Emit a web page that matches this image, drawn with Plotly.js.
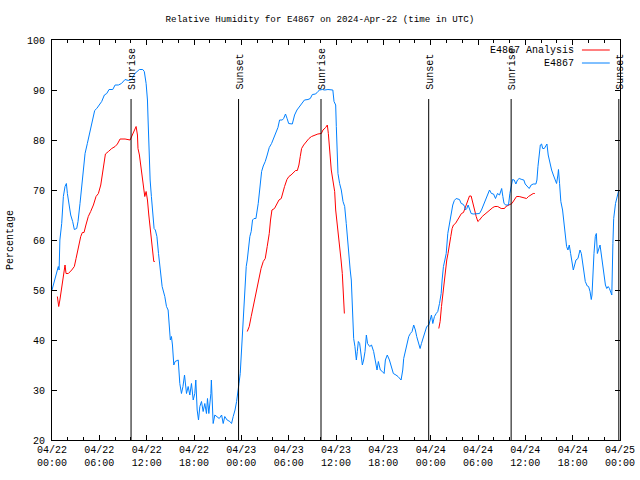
<!DOCTYPE html>
<html>
<head>
<meta charset="utf-8">
<script src="https://cdn.plot.ly/plotly-3.0.1.min.js"></script>
<style>html,body{margin:0;padding:0;background:#fff;}#chart{width:640px;height:480px;}</style>
</head>
<body>
<div id="chart"></div>
<script>
// Hours since 2024-04-22 00:00 UTC
const blueHours = [0,0.25,0.5,0.8,0.9,1.0,1.23,1.44,1.65,1.82,1.95,2.16,2.37,2.62,2.83,3.13,3.3,3.55,3.76,3.98,4.19,4.48,4.74,4.95,5.16,5.41,5.67,6.0,6.3,6.64,6.94,7.23,7.7,8.0,8.42,8.8,9.26,9.7,10.1,10.5,10.83,11.08,11.5,11.7,11.93,12.1,12.18,12.3,12.44,12.6,12.77,12.94,13.1,13.3,13.5,13.7,13.96,14.3,14.51,14.72,14.85,15.0,15.14,15.27,15.44,15.6,16.0,16.2,16.41,16.6,16.8,17.05,17.26,17.47,17.68,17.9,18.1,18.23,18.4,18.57,18.74,18.95,19.16,19.37,19.58,19.71,19.88,20.0,20.14,20.2,20.3,20.43,20.64,20.94,21.2,21.5,21.7,21.9,22.2,22.55,22.76,22.97,23.2,23.4,23.56,23.7,23.86,24.0,24.11,24.28,24.45,24.62,24.75,24.92,25.08,25.25,25.42,25.6,25.85,26.14,26.35,26.57,26.78,27.03,27.28,27.54,27.83,28.13,28.38,28.64,28.85,29.19,29.36,29.6,29.8,30.0,30.46,30.75,31.05,31.39,31.73,32.0,32.45,32.74,33.0,33.42,33.7,33.93,34.26,34.56,34.98,35.4,35.6,35.75,35.96,36.04,36.12,36.25,36.46,36.67,36.89,37.1,37.3,37.45,37.65,37.8,37.94,38.07,38.24,38.4,38.58,38.7,38.83,39.0,39.17,39.34,39.5,39.68,39.85,40.0,40.27,40.5,40.77,41.0,41.2,41.37,41.62,41.88,42.1,42.26,42.5,42.77,42.98,43.27,43.6,43.86,44.25,44.46,44.58,44.8,45.0,45.22,45.43,45.64,45.85,46.06,46.23,46.45,46.66,46.83,47.0,47.25,47.5,47.77,47.93,48.1,48.27,48.48,48.7,48.9,49.12,49.33,49.45,49.62,49.8,49.97,50.17,50.4,50.6,50.8,51.0,51.23,51.65,51.87,52.08,52.3,52.4,52.58,52.75,52.9,53.13,53.4,53.85,54.19,54.44,54.7,54.95,55.2,55.46,55.7,55.97,56.22,56.47,56.73,57.0,57.15,57.3,57.53,57.87,58.04,58.2,58.38,58.59,58.8,59.0,59.22,59.56,59.81,59.98,60.24,60.49,60.74,61.0,61.34,61.47,61.6,61.77,61.9,62.06,62.2,62.4,62.6,62.74,62.9,63.1,63.33,63.55,63.75,63.96,64.13,64.2,64.34,64.5,64.72,64.9,65.06,65.23,65.4,65.57,65.74,65.9,66.08,66.25,66.42,66.67,66.93,67.1,67.26,67.43,67.6,67.85,68.02,68.2,68.36,68.45,68.53,68.7,68.87,69.0,69.13,69.3,69.47,69.64,69.8,69.98,70.15,70.32,70.5,70.66,70.84,70.96,71.1,71.2,71.43,71.64,71.85,72.0];
const blueValues = [50,51.5,53.3,54.7,54,60,63.3,68.7,70.7,71.3,69.3,67.3,65,63.7,62.1,62.3,63.7,67.3,70.7,74.3,77.3,79.3,81,82.3,83.7,85.9,86.3,87,87.7,89,89.3,90.1,90.1,91,91,91.3,92.1,91.9,92.1,93.3,93.7,94.1,94.1,93.7,91.3,88,84,78,72,68.7,65.3,62.3,62,60.7,57.3,54.3,50.7,48.7,46.7,46,42.7,40,40.7,39,35,35.7,36,31.3,29.3,30.7,33,29.3,30.7,29,31.3,28,29.3,32,26,24,26.7,27.7,25.7,27.3,25.3,28.3,25.3,26.7,29.3,32,26.7,23.3,25,24.7,24.3,25,23.3,24.7,24,23.7,23.3,24.7,26,27.7,29.3,31.3,33.3,37.3,41.3,46.7,50.7,54.7,56,58.7,60.7,61.7,64,64.3,64.3,67.3,71.3,73.7,74.8,75.7,77,78.5,79.3,80.5,81.3,82.5,84,84,84.3,85.2,84.3,83.3,83.2,85,86,86.7,87.2,88,88.1,88.3,89.1,89.2,89.7,90,90.1,90,90.1,90.1,90,87.7,87,82.7,78,73.3,71.3,70,67.7,66.7,63.3,60,56.7,54,52,44.7,40.3,38.7,36,37.7,39.7,39.3,37,35,36,37.7,41,39.3,38.7,39,37.7,35.7,34,35.7,34,33.7,33.3,36,37,36,34.7,33.3,33,32.7,32,34,36.3,38,39,40.7,41.3,41.7,43,42,40.7,39.3,38.3,39.3,40.3,41.3,42.7,43,44,45,43.3,44.7,45.3,45.7,47.3,49.3,52,54.7,56,57.3,61.3,63.7,65.7,67,67.9,68.3,68.1,67.3,67.2,66.7,66,66.3,67,66.3,65.3,65.2,65.2,65.3,66,67,67.9,69,70,69.3,69.2,68.3,69.3,69,70.3,68.7,67.3,67,67,69.3,70.7,72.1,72,71.2,72,72.3,72.1,72,71.2,70.7,70.3,71,71.2,71.2,72,74.7,77,79,79.2,78.3,78.3,78.8,79.2,77,75.3,74,73,72,71.3,73,74.1,71.3,67.7,66,63.3,60,58.7,58,59,57.3,55.7,54,55,56,56.3,58,57.3,55.7,53.3,51.7,50.8,50.7,49.7,48.1,49,53,57.3,60.7,61.3,57.3,58.3,59,57,55.3,53.3,51,50.3,50.7,50.3,49.7,49,59.3,64.3,67.3,68.8,70,69.7];

const redHours = [0.68,0.85,1.0,1.23,1.44,1.65,1.78,2.07,2.5,2.83,3.05,3.34,3.64,3.85,4.06,4.3,4.6,4.9,5.25,5.58,5.88,6.18,6.4,6.6,6.77,7.15,7.57,8.0,8.29,8.63,9.26,9.9,10.15,10.4,10.66,10.83,10.9,11.08,11.25,11.42,11.59,11.76,11.93,12.1,12.27,12.44,12.6,12.77,12.9,13.03,
  18.0,
  24.75,25.0,25.25,25.5,25.76,26.0,26.27,26.5,26.78,27.03,27.28,27.54,27.7,27.88,28.2,28.47,28.77,29.06,29.27,29.48,29.78,30.03,30.3,30.6,30.88,31.1,31.3,31.47,31.64,31.9,32.2,32.57,32.9,33.3,33.7,34.14,34.35,34.69,34.9,35.03,35.2,35.4,35.6,35.83,35.96,36.13,36.3,36.47,36.64,36.8,36.89,37.0,37.06,
  43.0,
  49.03,49.2,49.37,49.54,49.7,49.87,50.04,50.2,50.38,50.55,50.72,50.89,51.14,51.4,51.65,51.9,52.16,52.4,52.67,52.92,53.13,53.35,53.56,53.77,53.98,54.19,54.53,54.87,55.2,55.54,55.88,56.14,56.5,56.94,57.36,57.53,57.95,58.3,58.59,58.88,59.22,59.56,59.9,60.15,60.4,60.7,61.0,61.2];
const redValues = [48.7,46.7,48,50.3,53,55,53.3,53.3,54,54.7,56.3,58.7,60.7,61.5,61.5,63,64.7,65.7,67,68.7,69.3,71,73.3,76,77.2,77.7,78.3,78.7,79.2,80.2,80.2,80,80.8,81.9,82.7,81,78.3,77,74.7,73,70.3,68.7,69.7,68,65,62.7,60,58.3,55.7,55.7,
  null,
  41.7,42.7,44.7,46.7,48.7,50.7,52.7,54.3,55.7,56.3,58.7,61.3,64,66,66.3,67,68,68.3,69.7,70.7,72.1,72.7,73,73.5,73.9,73.9,75,76.7,78.3,79,79.7,80.3,80.7,81,81.2,81.3,82,82.5,83,81.3,78,74,72,69.7,66,63.7,61.3,58.3,56,53.3,50.7,48,45.3,
  null,
  42.3,43.7,46.7,49.3,52,54.7,56,57.3,58.7,60.7,62.3,63,63.3,64,64.7,65.3,65.5,66.7,67.7,68.8,68.8,67.3,66,64.7,63.7,64,64.7,65.2,65.7,66,66.5,66.7,66.7,66.3,66.3,66.7,67,67.3,68,68.7,68.7,68.5,68.3,68.3,68.7,69,69.3,69.3];

const eventLabels = ['Sunrise','Sunset','Sunrise','Sunset','Sunrise','Sunset'];
const eventHours = [10.02, 23.65, 34.1, 47.75, 58.2, 71.85];

const seriesNames = ['E4867 Analysis', 'E4867'];
const seriesColors = ['#ff0000', '#0080ff'];

const BASE = Date.UTC(2024, 3, 22, 0, 0, 0);
function toDate(h) {
  if (h === null) return null;
  return new Date(BASE + h * 3600000).toISOString().replace('T', ' ').slice(0, 19);
}

const FONT = 'Liberation Mono, DejaVu Sans Mono, monospace';

const traces = [
  {
    x: redHours.map(toDate), y: redValues, name: seriesNames[0], type: 'scatter', mode: 'lines',
    line: {color: seriesColors[0], width: 1}, connectgaps: false, showlegend: false
  },
  {
    x: blueHours.map(toDate), y: blueValues, name: seriesNames[1], type: 'scatter', mode: 'lines',
    line: {color: seriesColors[1], width: 1}, showlegend: false
  }
];

const shapes = [];
const annotations = [];
eventHours.forEach((h, i) => {
  shapes.push({type: 'line', xref: 'x', yref: 'y', x0: toDate(h), x1: toDate(h), y0: 20, y1: 88.2,
    line: {color: '#000', width: 1}});
  annotations.push({xref: 'x', yref: 'y', x: toDate(h), y: 89.6, text: eventLabels[i], textangle: -90,
    showarrow: false, xanchor: 'center', yanchor: 'bottom', xshift: 1,
    font: {family: FONT, size: 10, color: '#000'}});
});

// gnuplot-style legend (text on the left, sample on the right)
const legendY = [0.975, 0.9425];
seriesNames.forEach((n, i) => {
  annotations.push({xref: 'paper', yref: 'paper', x: 0.923, y: legendY[i], text: n, showarrow: false,
    xanchor: 'right', yanchor: 'middle', font: {family: FONT, size: 10, color: '#000'}});
  shapes.push({type: 'line', xref: 'paper', yref: 'paper', x0: 0.933, x1: 0.982, y0: legendY[i], y1: legendY[i],
    line: {color: seriesColors[i], width: 1}});
});

const layout = {
  width: 640, height: 480,
  margin: {l: 52, r: 20, t: 40, b: 40, pad: 0},
  paper_bgcolor: '#fff', plot_bgcolor: '#fff',
  font: {family: FONT, size: 10, color: '#000'},
  title: {text: 'Relative Humidity for E4867 on 2024-Apr-22 (time in UTC)', font: {family: FONT, size: 9.2, color: '#000'},
    x: 0.5, xanchor: 'center', xref: 'container', y: 0.96, yanchor: 'middle', yref: 'container'},
  xaxis: {
    type: 'date', range: [toDate(0), toDate(72)],
    tick0: toDate(0), dtick: 6 * 3600000, tickformat: '%m/%d<br>%H:%M',
    ticks: 'inside', ticklen: 5, tickcolor: '#000', tickwidth: 1,
    minor: {dtick: 2 * 3600000, ticks: 'inside', ticklen: 3, tickcolor: '#000', tickwidth: 1},
    showline: true, linecolor: '#000', linewidth: 1, mirror: 'allticks',
    showgrid: false, zeroline: false, tickfont: {family: FONT, size: 10, color: '#000'}
  },
  yaxis: {
    range: [20, 100], dtick: 10, tick0: 20,
    ticks: 'inside', ticklen: 5, tickcolor: '#000', tickwidth: 1,
    showline: true, linecolor: '#000', linewidth: 1, mirror: 'allticks', ticklabelstandoff: 4,
    showgrid: false, zeroline: false, tickfont: {family: FONT, size: 10, color: '#000'},
    title: {text: 'Percentage', font: {family: FONT, size: 10, color: '#000'}, standoff: 11}
  },
  shapes: shapes,
  annotations: annotations
};

Plotly.newPlot('chart', traces, layout, {displayModeBar: false, responsive: false});
</script>
</body>
</html>
